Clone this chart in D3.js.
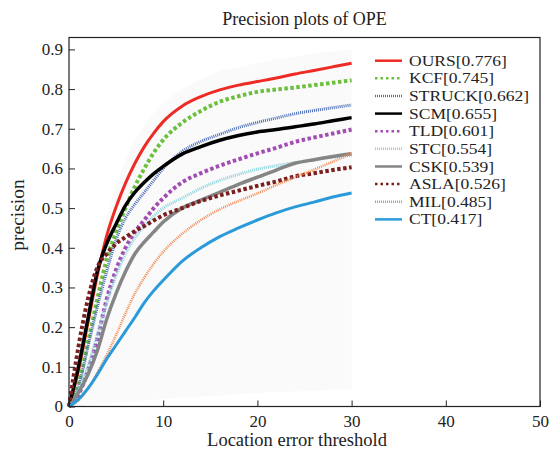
<!DOCTYPE html>
<html>
<head>
<meta charset="utf-8">
<script src="https://cdn.jsdelivr.net/npm/d3@7"></script>
<style>
  body { margin: 0; background: #fff; }
  svg { display: block; }
  text { font-family: "Liberation Serif", "Times New Roman", serif; fill: #222; }
</style>
</head>
<body>
<div id="container"></div>
<script>
let w = 553;
let h = 449;

// location error thresholds (px)
let thresholds = [0, 1, 2, 3, 4, 5, 6, 7, 8, 9, 10, 12, 14, 16, 18, 20, 22, 24, 26, 28, 30];

let trackers = ["OURS", "KCF", "STRUCK", "SCM", "TLD", "STC", "CSK", "ASLA", "MIL", "CT"];
let scores = ["0.776", "0.745", "0.662", "0.655", "0.601", "0.554", "0.539", "0.526", "0.485", "0.417"];

let ours   = [0, 0.09, 0.21, 0.33, 0.43, 0.503, 0.563, 0.613, 0.655, 0.689, 0.718, 0.757, 0.781, 0.798, 0.81, 0.819, 0.828, 0.838, 0.847, 0.856, 0.865];
let kcf    = [0, 0.055, 0.16, 0.27, 0.37, 0.44, 0.50, 0.555, 0.60, 0.64, 0.672, 0.715, 0.745, 0.768, 0.782, 0.793, 0.799, 0.804, 0.81, 0.816, 0.822];
let struck = [0, 0.05, 0.15, 0.25, 0.34, 0.42, 0.475, 0.51, 0.54, 0.57, 0.60, 0.643, 0.668, 0.686, 0.703, 0.716, 0.727, 0.738, 0.746, 0.753, 0.76];
let scm    = [0, 0.10, 0.22, 0.34, 0.41, 0.46, 0.507, 0.54, 0.565, 0.587, 0.605, 0.636, 0.655, 0.671, 0.683, 0.692, 0.698, 0.705, 0.712, 0.72, 0.728];
let tld    = [0, 0.03, 0.09, 0.17, 0.27, 0.345, 0.40, 0.44, 0.47, 0.50, 0.525, 0.565, 0.588, 0.607, 0.623, 0.638, 0.652, 0.667, 0.678, 0.688, 0.698];
let stc    = [0, 0.04, 0.10, 0.18, 0.26, 0.33, 0.385, 0.425, 0.455, 0.48, 0.50, 0.525, 0.55, 0.57, 0.585, 0.598, 0.607, 0.615, 0.622, 0.628, 0.633];
let csk    = [0, 0.035, 0.08, 0.14, 0.22, 0.285, 0.34, 0.385, 0.415, 0.44, 0.465, 0.50, 0.52, 0.54, 0.56, 0.578, 0.596, 0.613, 0.622, 0.63, 0.637];
let asla   = [0, 0.15, 0.27, 0.35, 0.385, 0.41, 0.427, 0.442, 0.455, 0.469, 0.482, 0.50, 0.518, 0.532, 0.544, 0.556, 0.567, 0.58, 0.588, 0.596, 0.603];
let mil    = [0, 0.015, 0.045, 0.085, 0.13, 0.18, 0.235, 0.285, 0.325, 0.36, 0.39, 0.435, 0.47, 0.497, 0.518, 0.537, 0.558, 0.578, 0.597, 0.617, 0.638];
let ct     = [0, 0.018, 0.045, 0.08, 0.12, 0.155, 0.19, 0.225, 0.262, 0.292, 0.318, 0.366, 0.40, 0.428, 0.45, 0.47, 0.488, 0.503, 0.515, 0.528, 0.538];

// faint grey patch behind the curves
let shadeTop    = [0, 0.12, 0.25, 0.38, 0.48, 0.56, 0.62, 0.67, 0.71, 0.74, 0.765, 0.80, 0.825, 0.845, 0.855, 0.865, 0.875, 0.882, 0.89, 0.895, 0.9];
let shadeBottom = [0, 0.001, 0.003, 0.005, 0.007, 0.009, 0.011, 0.013, 0.015, 0.017, 0.019, 0.022, 0.025, 0.028, 0.031, 0.034, 0.036, 0.038, 0.04, 0.042, 0.044];

let xTicks = [0, 10, 20, 30, 40, 50];
let yTicks = [0, 0.1, 0.2, 0.3, 0.4, 0.5, 0.6, 0.7, 0.8, 0.9];

let series = [ours, kcf, struck, scm, tld, stc, csk, asla, mil, ct];
let colors = ["#ee2a24", "#6cbf3c", "#4b6cb7", "#000000", "#a24db3", "#8dd3de", "#858585", "#7b1e1e", "#f28b55", "#2a9ad9"];
let dashes = [null, "3.5,2.5", "1,1", null, "3.5,2.5", "1,1", null, "3.5,2.5", "1,1", null];
let widths = [3, 4, 3, 3.5, 4, 3, 3.5, 4, 2.5, 3];

let pLeft = 69, pRight = 540, pTop = 37.5, pBottom = 406.5;

let x = d3.scaleLinear().domain([0, 50]).range([pLeft, pRight]);
let y = d3.scaleLinear().domain([0, 0.93]).range([pBottom, pTop]);

let viz = d3.select("#container").append("svg")
    .attr("width", w)
    .attr("height", h);

// shaded patch
let area = d3.area()
    .x((d, i) => x(thresholds[i]))
    .y0((d, i) => y(shadeBottom[i]))
    .y1(d => y(d))
    .curve(d3.curveMonotoneX);
viz.append("path")
    .datum(shadeTop)
    .attr("d", area)
    .attr("fill", "#fafafa");

// curves
let line = d3.line()
    .x((d, i) => x(thresholds[i]))
    .y(d => y(d))
    .curve(d3.curveMonotoneX);

viz.append("g").selectAll("path")
    .data(series)
    .join("path")
    .attr("d", line)
    .attr("fill", "none")
    .attr("stroke", (d, i) => colors[i])
    .attr("stroke-width", (d, i) => widths[i])
    .attr("stroke-dasharray", (d, i) => dashes[i]);

// axes
let xAxis = viz.append("g")
    .attr("transform", "translate(0," + pBottom + ")")
    .call(d3.axisBottom(x).tickValues(xTicks).tickSize(-6).tickPadding(8));
let yAxis = viz.append("g")
    .attr("transform", "translate(" + pLeft + ",0)")
    .call(d3.axisLeft(y).tickValues(yTicks).tickSize(-6).tickPadding(6).tickFormat(d => d === 0 ? "0" : d3.format(".1f")(d)));

[xAxis, yAxis].forEach(a => {
  a.select(".domain").remove();
  a.selectAll("line").attr("stroke", "#222");
  a.selectAll("text")
    .attr("font-size", 17)
    .attr("font-family", "Liberation Serif")
    .attr("fill", "#222");
});

viz.append("rect")
    .attr("x", pLeft)
    .attr("y", pTop)
    .attr("width", pRight - pLeft)
    .attr("height", pBottom - pTop)
    .attr("fill", "none")
    .attr("stroke", "#222")
    .attr("stroke-width", 1.2);

// labels
viz.append("text")
    .text("Precision plots of OPE")
    .attr("x", (pLeft + pRight) / 2)
    .attr("y", 25)
    .attr("text-anchor", "middle")
    .attr("font-size", 18);

viz.append("text")
    .text("Location error threshold")
    .attr("x", 297)
    .attr("y", 446)
    .attr("text-anchor", "middle")
    .attr("font-size", 18.5);

viz.append("text")
    .text("precision")
    .attr("transform", "translate(24,215) rotate(-90)")
    .attr("text-anchor", "middle")
    .attr("font-size", 19.5);

// legend (rows are packed tight, so a smaller font stretched to the reference width)
let leg = viz.append("g");
let rowY = i => 60.7 + i * 17.63;
trackers.forEach((t, i) => {
  leg.append("line")
    .attr("x1", 375)
    .attr("x2", 402)
    .attr("y1", rowY(i))
    .attr("y2", rowY(i))
    .attr("stroke", colors[i])
    .attr("stroke-width", 2.5)
    .attr("stroke-dasharray", dashes[i] === "3.5,2.5" ? "2.5,3" : dashes[i]);
  let tx = leg.append("text")
    .text(t + "[" + scores[i] + "]")
    .attr("x", 409)
    .attr("y", rowY(i))
    .attr("dy", "0.34em")
    .attr("font-size", 15);
  let len = tx.node().getComputedTextLength();
  tx.attr("textLength", len * 17.5 / 15)
    .attr("lengthAdjust", "spacingAndGlyphs");
});
</script>
</body>
</html>
